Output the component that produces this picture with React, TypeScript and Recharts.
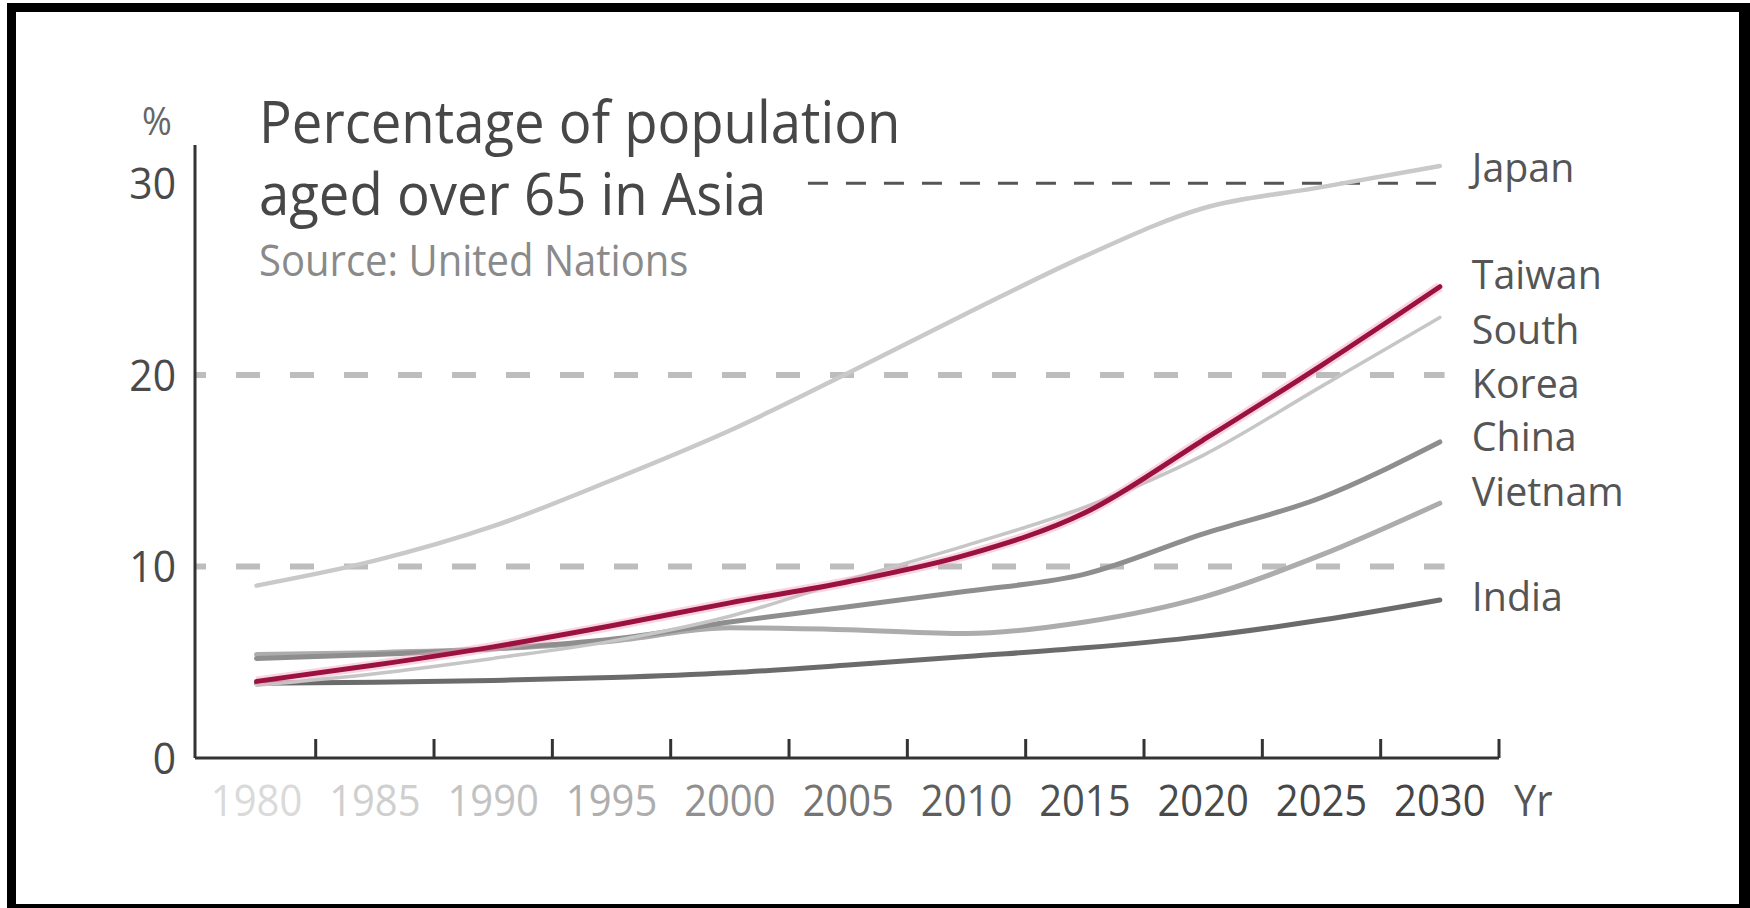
import React from 'react';
import { LineChart, Line, XAxis, YAxis, ReferenceLine } from 'recharts';

// Share of population aged 65+ (%), UN figures and projections
const years = [1980, 1985, 1990, 1995, 2000, 2005, 2010, 2015, 2020, 2025, 2030];
const japan = [9.0, 10.3, 12.1, 14.5, 17.1, 20.1, 23.2, 26.2, 28.7, 29.8, 30.9];
const taiwan = [4.0, 4.85, 5.8, 6.9, 8.1, 9.2, 10.6, 12.8, 16.6, 20.5, 24.6];
const southKorea = [3.8, 4.4, 5.2, 6.1, 7.4, 9.3, 11.1, 13.1, 15.8, 19.4, 23.0];
const china = [5.2, 5.4, 5.7, 6.2, 7.1, 7.9, 8.7, 9.6, 11.7, 13.6, 16.5];
const vietnam = [5.4, 5.5, 5.7, 6.1, 6.8, 6.7, 6.5, 7.1, 8.4, 10.6, 13.3];
const india = [3.9, 3.95, 4.05, 4.2, 4.45, 4.85, 5.3, 5.75, 6.35, 7.2, 8.25];

// year labels sit on the data points, tick marks sit halfway between them
const yearTicks = [
  1980, 1982.5, 1985, 1987.5, 1990, 1992.5, 1995, 1997.5, 2000, 2002.5, 2005,
  2007.5, 2010, 2012.5, 2015, 2017.5, 2020, 2022.5, 2025, 2027.5, 2030, 2032.5,
];
const valueTicks = [0, 10, 20, 30];

const rows = years.map((year, i) => ({
  year,
  japan: japan[i],
  taiwan: taiwan[i],
  southKorea: southKorea[i],
  china: china[i],
  vietnam: vietnam[i],
  india: india[i],
}));

const FONT = "'Open Sans', sans-serif";
const yearShades = ['#dadada', '#cfcfcf', '#c2c2c2', '#aeaeae', '#909090', '#747474', '#5e5e5e', '#4f4f4f', '#4a4a4a', '#474747', '#454545'];

type SeriesStyle = {
  key: string;
  label: string[];
  color: string;
  width: number;
  labelDy: number;
};

const seriesStyles: SeriesStyle[] = [
  { key: 'japan', label: ['Japan'], color: '#c9c9c9', width: 4.5, labelDy: 16 },
  { key: 'india', label: ['India'], color: '#6b6b6b', width: 5, labelDy: 11 },
  { key: 'vietnam', label: ['Vietnam'], color: '#acacac', width: 5, labelDy: 3 },
  { key: 'china', label: ['China'], color: '#8e8e8e', width: 5, labelDy: 9 },
  { key: 'southKorea', label: ['South', 'Korea'], color: '#c6c6c6', width: 3.5, labelDy: 27 },
  { key: 'taiwan', label: ['Taiwan'], color: '#9b1242', width: 5, labelDy: 2 },
];

function SqText({ x, y, size, sx, fill, anchor = 'start', children }: any) {
  return (
    <text
      transform={`translate(${x},${y}) scale(${sx},1)`}
      fontSize={size}
      fill={fill}
      textAnchor={anchor}
      fontFamily={FONT}
    >
      {children}
    </text>
  );
}

function YearTick({ x, y, payload }: any) {
  const v = payload.value as number;
  if (v % 5 !== 0) {
    return <line x1={x} y1={y} x2={x} y2={y - 19} stroke="#333" strokeWidth={3} />;
  }
  const idx = years.indexOf(v);
  return (
    <SqText x={x} y={y + 58} size={43} sx={0.93} fill={yearShades[idx]} anchor="middle">
      {v}
    </SqText>
  );
}

function ValueTick({ x, y, payload }: any) {
  return (
    <SqText x={x} y={y + 16} size={43} sx={0.95} fill="#4a4a4a" anchor="end">
      {payload.value}
    </SqText>
  );
}

function endLabel(style: SeriesStyle) {
  return (props: any) => {
    const { cx, cy, index } = props;
    if (index !== years.length - 1) return <g key={`${style.key}-${index}`} />;
    return (
      <g key={`${style.key}-${index}`}>
        {style.label.map((line, i) => (
          <SqText key={line} x={cx + 32} y={cy + style.labelDy + i * 54} size={41} sx={0.96} fill="#555">
            {line}
          </SqText>
        ))}
      </g>
    );
  };
}

export default function App() {
  return (
    <div style={{ position: 'absolute', left: 0, top: 0, width: 1750, height: 908, background: '#fff', overflow: 'hidden' }}>
      <LineChart
        width={1750}
        height={908}
        data={rows}
        margin={{ top: 145, right: 251, bottom: 0, left: 0 }}
      >
        <XAxis
          dataKey="year"
          type="number"
          domain={[1977.4, 2032.5]}
          ticks={yearTicks}
          interval={0}
          height={150}
          tickSize={0}
          tickMargin={0}
          tick={YearTick}
          axisLine={{ stroke: '#333', strokeWidth: 3 }}
        />
        <YAxis
          type="number"
          domain={[0, 32]}
          ticks={valueTicks}
          interval={0}
          width={195}
          tickSize={0}
          tickMargin={19}
          tick={ValueTick}
          axisLine={{ stroke: '#333', strokeWidth: 3 }}
        />
        <ReferenceLine
          segment={[{ x: 1977.4, y: 10 }, { x: 2030.2, y: 10 }]}
          stroke="#bdbdbd"
          strokeWidth={6}
          strokeDasharray="24 30"
          strokeDashoffset={13}
        />
        <ReferenceLine
          segment={[{ x: 1977.4, y: 20 }, { x: 2030.2, y: 20 }]}
          stroke="#bdbdbd"
          strokeWidth={6}
          strokeDasharray="24 30"
          strokeDashoffset={13}
        />
        <ReferenceLine
          segment={[{ x: 2003.3, y: 30 }, { x: 2030.2, y: 30 }]}
          stroke="#555"
          strokeWidth={3}
          strokeDasharray="20 18"
        />
        {seriesStyles.map((s) => [
          s.key === 'taiwan' ? (
            <Line
              key="taiwan-halo"
              dataKey="taiwan"
              type="monotone"
              stroke="#f2a3b8"
              strokeWidth={10}
              strokeOpacity={0.45}
              dot={false}
              activeDot={false}
              isAnimationActive={false}
            />
          ) : null,
          <Line
            key={s.key}
            dataKey={s.key}
            type="monotone"
            stroke={s.color}
            strokeWidth={s.width}
            strokeLinecap="round"
            dot={endLabel(s)}
            activeDot={false}
            isAnimationActive={false}
          />,
        ])}
      </LineChart>

      <svg width={1750} height={908} style={{ position: 'absolute', left: 0, top: 0, pointerEvents: 'none' }}>
        <SqText x={259} y={143} size={58} sx={0.94} fill="#474747">Percentage of population</SqText>
        <SqText x={259} y={215} size={58} sx={0.94} fill="#474747">aged over 65 in Asia</SqText>
        <SqText x={259} y={276} size={44} sx={0.91} fill="#8a8a8a">Source: United Nations</SqText>
        <SqText x={157} y={135} size={38} sx={0.95} fill="#666" anchor="middle">%</SqText>
        <SqText x={1514} y={816} size={43} sx={0.93} fill="#555">Yr</SqText>
      </svg>

      <div
        style={{
          position: 'absolute',
          left: 7,
          top: 3,
          width: 1743,
          height: 905,
          boxSizing: 'border-box',
          borderStyle: 'solid',
          borderColor: '#000',
          borderWidth: '9px 11px 4px 9px',
        }}
      />
    </div>
  );
}
